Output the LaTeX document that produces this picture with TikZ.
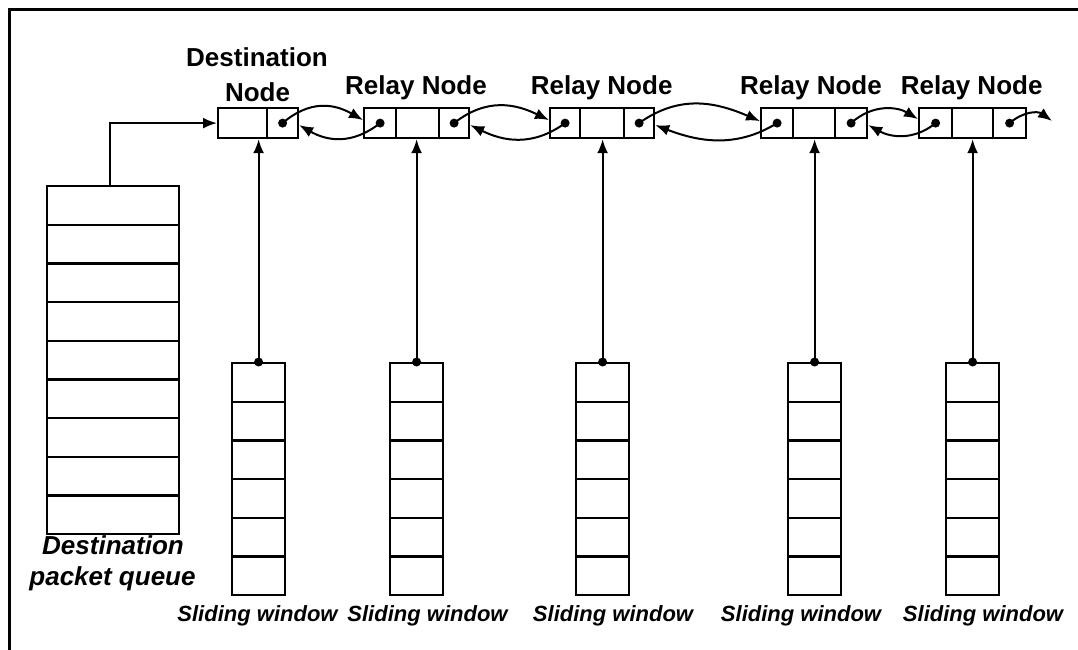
\documentclass[tikz,border=0pt]{standalone}
\usepackage{fontspec}
\setmainfont{Liberation Sans}
\usetikzlibrary{arrows.meta,calc}
\begin{document}
\begin{tikzpicture}[x=1pt,y=-1pt,
  cell/.style={draw, line width=2.2pt, rectangle, inner sep=0pt, minimum height=30pt, anchor=north west},
  slot/.style={draw, line width=2.2pt, rectangle, inner sep=0pt, anchor=north west},
  arr/.style={line width=2pt, -{Latex[length=14pt,width=11pt]}},
  lab/.style={font=\fontsize{26}{31}\selectfont\bfseries, anchor=base, inner sep=0pt},
  ilab/.style={font=\fontsize{26}{31}\selectfont\bfseries\itshape, anchor=base, inner sep=0pt},
  wlab/.style={font=\fontsize{22}{26}\selectfont\bfseries\itshape, anchor=base, inner sep=0pt},
  dot/.style={circle, fill, inner sep=0pt, minimum size=9pt}]
\useasboundingbox (0,0) rectangle (1078,650);
\draw[line width=3pt] (9.3,650) -- (9.3,10) -- (1078,10);

% linked list nodes
\node[cell, minimum width=49pt] (n0a) at (217,107) {};
\node[cell, minimum width=31pt] (n0b) at (266,107) {};
\foreach \k/\xa/\wa/\xb/\wb/\xc/\wc in {1/363/32/395/43/438/30, 2/549/30/579/44/623/30, 3/760/32/792/42/834/32, 4/918/33/951/41/992/33}{
  \node[cell, minimum width=\wa pt] (n\k a) at (\xa,107) {};
  \node[cell, minimum width=\wb pt] (n\k b) at (\xb,107) {};
  \node[cell, minimum width=\wc pt] (n\k c) at (\xc,107) {};
}
% dots
\node[dot] (d0b) at (n0b.center) {};
\foreach \k in {1,...,4}{
  \node[dot] (d\k a) at (n\k a.center) {};
  \node[dot] (d\k c) at (n\k c.center) {};
}

% labels
\node[lab] (tdest1) at (257,66.7) {Destination};
\node[lab] (tdest2) at (257.5,101.7) {Node};
\node[lab] (tr1) at (416,95) {Relay Node};
\node[lab] (tr2) at (601.7,95) {Relay Node};
\node[lab] (tr3) at (811,95) {Relay Node};
\node[lab] (tr4) at (971.7,95) {Relay Node};

% queue
\foreach \i in {1,...,9}
  \node[slot, minimum width=132pt, minimum height=38.67pt] (q\i) at (46,{185+(\i-1)*38.67}) {};
\node[ilab] (tq1) at (113,554) {Destination};
\node[ilab] (tq2) at (112.5,585) {packet queue};

% sliding windows
\foreach \w/\x in {1/231,2/389,3/575,4/787,5/945}
  \foreach \r in {1,...,6}
    \node[slot, minimum width=53pt, minimum height=38.67pt] (w\w r\r) at (\x,{362+(\r-1)*38.67}) {};
\foreach \w/\x in {1/257.5,2/427.5,3/613,4/801,5/983}
  \node[wlab] (tw\w) at (\x,621) {Sliding window};

% window dots and vertical arrows
\foreach \w in {1,...,5} \node[dot] (wd\w) at (w\w r1.north) {};
\draw[arr] (wd1.center) -- (wd1.center |- n0a.south);
\draw[arr] (wd2.center) -- (wd2.center |- n1b.south);
\draw[arr] (wd3.center) -- (wd3.center |- n2b.south);
\draw[arr] (wd4.center) -- (wd4.center |- n3b.south);
\draw[arr] (wd5.center) -- (wd5.center |- n4b.south);

% queue to destination
\draw[arr] (q1.north -| 109.5,0) |- (n0a.west);

% forward / backward links
\draw[arr] (d0b.center) .. controls +(28,-24) and +(-28,-16) .. ($(n1a.west)+(0,-3)$);
\draw[arr] (d1a.center) .. controls +(-28,22) and +(28,16) .. ($(n0b.east)+(0,2)$);
\draw[arr] (d1c.center) .. controls +(33,-26) and +(-33,-16) .. ($(n2a.west)+(0,-3)$);
\draw[arr] (d2a.center) .. controls +(-33,24) and +(33,16) .. ($(n1c.east)+(0,2)$);
\draw[arr] (d2c.center) .. controls +(42,-30) and +(-42,-18) .. ($(n3a.west)+(0,-2)$);
\draw[arr] (d3a.center) .. controls +(-42,26) and +(42,16) .. ($(n2c.east)+(0,2)$);
\draw[arr] (d3c.center) .. controls +(22,-20) and +(-20,-12) .. ($(n4a.west)+(0,-4)$);
\draw[arr] (d4a.center) .. controls +(-22,18) and +(22,12) .. ($(n3c.east)+(0,2)$);
\coordinate (endp) at (1052,121);
\draw[arr] (d4c.center) .. controls +(14,-12) and +(-14,-10) .. (endp);
\end{tikzpicture}
\end{document}
